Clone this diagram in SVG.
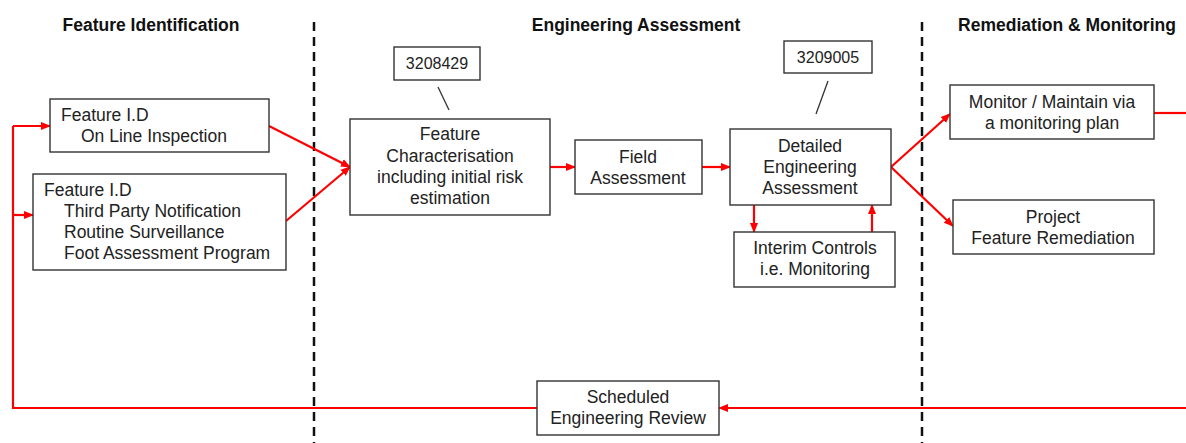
<svg xmlns="http://www.w3.org/2000/svg" width="1186" height="443" viewBox="0 0 1186 443">
<style>
.box{fill:#fff;stroke:#333;stroke-width:1.4}
.t{font-family:"Liberation Sans",Arial,sans-serif;font-size:17.5px;fill:#222}
.c{text-anchor:middle}
.h{font-family:"Liberation Sans",Arial,sans-serif;font-size:17.5px;font-weight:bold;fill:#111;text-anchor:middle}
.lbl{font-family:"Liberation Sans",Arial,sans-serif;font-size:16px;fill:#222;text-anchor:middle}
.con{fill:none;stroke:#f00;stroke-width:2.2}
.arr{marker-end:url(#ah)}
.div{stroke:#111;stroke-width:2.5;stroke-dasharray:9 6}
.lead{stroke:#333;stroke-width:1.3}
</style>
<defs>
<marker id="ah" markerUnits="userSpaceOnUse" markerWidth="10" markerHeight="10" viewBox="0 0 10 10" refX="9" refY="5" orient="auto">
<path d="M0,1 L10,5 L0,9 z" fill="#f00"/>
</marker>
</defs>
<rect width="1186" height="443" fill="#fff"/>
<g id="headers">
<text class="h" x="151" y="31">Feature Identification</text>
<text class="h" x="636" y="31">Engineering Assessment</text>
<text class="h" x="1067" y="31">Remediation &amp; Monitoring</text>
</g>
<g id="dividers">
<line class="div" x1="314" y1="22" x2="314" y2="443"/>
<line class="div" x1="922" y1="22" x2="922" y2="443"/>
</g>
<g id="connectors">
<polyline class="con" points="537,408 13,408 13,126"/>
<line class="con arr" x1="13" y1="126" x2="50" y2="126"/>
<line class="con arr" x1="13" y1="215" x2="33" y2="215"/>
<line class="con arr" x1="1186" y1="408" x2="719" y2="408"/>
<line class="con" x1="1154" y1="113" x2="1186" y2="113"/>
<line class="con arr" x1="269" y1="126" x2="350" y2="167"/>
<line class="con arr" x1="286" y1="221" x2="350" y2="167"/>
<line class="con arr" x1="550" y1="167" x2="575" y2="167"/>
<line class="con arr" x1="702" y1="167" x2="730" y2="167"/>
<line class="con arr" x1="891" y1="167" x2="950" y2="114"/>
<line class="con arr" x1="891" y1="167" x2="953" y2="226"/>
<line class="con arr" x1="754" y1="205" x2="754" y2="232"/>
<line class="con arr" x1="872" y1="232" x2="872" y2="205"/>
<line class="lead" x1="438" y1="87" x2="449" y2="110"/>
<line class="lead" x1="828" y1="81" x2="816" y2="114"/>
</g>
<g id="n-fid-oli">
<rect class="box" x="50" y="99" width="219" height="53"/>
<text class="t" x="61" y="121">Feature I.D</text>
<text class="t" x="81" y="142">On Line Inspection</text>
</g>
<g id="n-fid-other">
<rect class="box" x="33" y="174" width="253" height="96"/>
<text class="t" x="44" y="196">Feature I.D</text>
<text class="t" x="64" y="217">Third Party Notification</text>
<text class="t" x="64" y="238">Routine Surveillance</text>
<text class="t" x="64" y="259">Foot Assessment Program</text>
</g>
<g id="n-char">
<rect class="box" x="350" y="119" width="200" height="96"/>
<text class="t c" x="450" y="140">Feature</text>
<text class="t c" x="450" y="162">Characterisation</text>
<text class="t c" x="450" y="183">including initial risk</text>
<text class="t c" x="450" y="204">estimation</text>
</g>
<g id="n-label1">
<rect class="box" x="394" y="47" width="86" height="33"/>
<text class="lbl" x="437" y="69">3208429</text>
</g>
<g id="n-field">
<rect class="box" x="575" y="140" width="127" height="54"/>
<text class="t c" x="638" y="163">Field</text>
<text class="t c" x="638" y="184">Assessment</text>
</g>
<g id="n-dea">
<rect class="box" x="730" y="129" width="161" height="76"/>
<text class="t c" x="810" y="152">Detailed</text>
<text class="t c" x="810" y="173">Engineering</text>
<text class="t c" x="810" y="194">Assessment</text>
</g>
<g id="n-label2">
<rect class="box" x="784" y="41" width="88" height="32"/>
<text class="lbl" x="828" y="63">3209005</text>
</g>
<g id="n-interim">
<rect class="box" x="734" y="232" width="161" height="55"/>
<text class="t c" x="815" y="254">Interim Controls</text>
<text class="t c" x="815" y="275">i.e. Monitoring</text>
</g>
<g id="n-monitor">
<rect class="box" x="950" y="85" width="204" height="54"/>
<text class="t c" x="1052" y="108">Monitor / Maintain via</text>
<text class="t c" x="1052" y="129">a monitoring plan</text>
</g>
<g id="n-project">
<rect class="box" x="953" y="200" width="201" height="54"/>
<text class="t c" x="1053" y="223">Project</text>
<text class="t c" x="1053" y="244">Feature Remediation</text>
</g>
<g id="n-review">
<rect class="box" x="537" y="381" width="182" height="54"/>
<text class="t c" x="628" y="403">Scheduled</text>
<text class="t c" x="628" y="424">Engineering Review</text>
</g>
</svg>
